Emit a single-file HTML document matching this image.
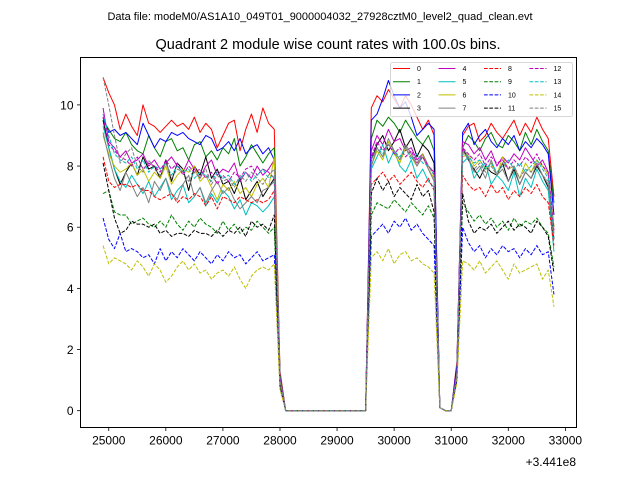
<!DOCTYPE html>
<html><head><meta charset="utf-8"><style>
body{margin:0;background:#fff;}
svg{display:block;font-family:"Liberation Sans","DejaVu Sans",sans-serif;}
</style></head><body>
<svg id="chart" width="640" height="480" viewBox="0 0 640 480" xmlns="http://www.w3.org/2000/svg">
<rect width="640" height="480" fill="#fff"/>
<text x="320" y="20" text-anchor="middle" font-size="11">Data file: modeM0/AS1A10_049T01_9000004032_27928cztM0_level2_quad_clean.evt</text>
<text x="328" y="49" text-anchor="middle" font-size="14.5">Quadrant 2 module wise count rates with 100.0s bins.</text>
<g id="grid"></g>
<g id="series"></g>
<rect x="80.5" y="57.5" width="496" height="370" fill="none" stroke="#000" stroke-width="1"/>
<g id="axes"></g>
<text x="576" y="466" text-anchor="end" font-size="12">+3.441e8</text>
<g id="legend"></g>
</svg>
<script>
const xTicks=[25000,26000,27000,28000,29000,30000,31000,32000,33000];
const yTicks=[0,2,4,6,8,10];
const colors=['#ff0000','#008000','#0000ff','#000000','#bf00bf','#00bfbf','#bfbf00','#808080'];
const s0=[10.9,10.4,10.0,9.2,9.7,9.3,9.0,10.0,9.4,9.3,9.1,9.3,9.5,9.3,9.4,9.2,9.6,9.1,9.4,9.2,8.6,9.0,9.4,9.5,8.5,9.2,9.7,9.1,9.9,9.4,9.2,1.3,0,0,0,0,0,0,0,0,0,0,0,0,0,0,0,9.9,10.3,10.1,10.5,10.2,9.9,10.3,10.0,9.6,9.2,9.5,9.0,0.1,0,0,1.6,9.0,9.3,9.4,8.8,9.0,9.4,9.1,8.9,9.2,9.5,9.0,9.4,9.1,9.6,9.2,8.9,7.0];
const s1=[9.5,9.2,8.9,8.8,9.1,8.7,8.5,8.4,9.0,8.6,8.3,8.8,8.9,8.5,8.6,8.2,8.7,8.8,8.3,8.5,8.2,8.6,8.4,8.9,8.0,8.3,8.7,8.4,8.1,8.4,8.6,1.2,0,0,0,0,0,0,0,0,0,0,0,0,0,0,0,8.9,9.5,9.3,9.6,9.4,9.1,9.5,9.2,8.9,8.7,9.0,8.5,0.1,0,0,1.4,8.6,9.0,8.8,8.5,8.9,9.1,8.7,8.6,9.0,8.8,8.5,9.1,8.7,9.2,8.8,8.5,6.8];
const s2=[9.6,9.1,9.2,9.0,9.1,8.9,8.7,9.4,9.0,8.6,8.9,8.8,9.1,9.0,9.1,8.9,8.8,8.7,9.0,8.9,8.5,8.6,8.8,8.5,8.9,8.4,8.6,8.7,8.4,8.6,8.2,1.1,0,0,0,0,0,0,0,0,0,0,0,0,0,0,0,9.5,9.7,10.2,10.8,10.3,9.9,10.1,9.6,9.0,9.2,9.4,9.2,0.1,0,0,1.5,9.1,9.4,8.7,9.0,9.2,8.8,8.6,8.9,8.7,9.0,8.5,8.8,8.6,8.9,8.7,8.4,6.4];
const s3=[9.5,8.6,7.9,7.4,7.8,8.1,7.7,8.3,7.9,8.0,7.6,8.2,7.5,8.1,7.9,7.2,8.0,7.7,8.3,7.6,7.9,7.4,7.5,7.1,7.6,6.9,7.2,7.5,7.0,7.3,7.6,1.0,0,0,0,0,0,0,0,0,0,0,0,0,0,0,0,8.2,8.7,9.0,8.5,8.8,9.2,8.6,8.9,8.3,8.7,8.5,8.1,0.1,0,0,1.3,8.6,8.2,7.9,7.6,8.0,7.8,7.7,8.1,7.5,7.9,7.4,7.8,7.6,8.0,7.7,7.3,5.6];
const s4=[9.9,8.8,8.6,8.3,8.5,8.1,8.2,8.4,8.0,8.2,7.9,8.1,8.3,8.0,7.8,8.2,7.9,7.6,8.0,8.2,7.7,7.9,7.8,8.1,7.5,7.8,7.6,8.0,7.7,7.9,8.2,1.1,0,0,0,0,0,0,0,0,0,0,0,0,0,0,0,8.5,9.0,8.7,9.2,8.8,8.9,8.5,8.6,8.2,8.4,8.0,7.8,0.1,0,0,1.3,8.8,8.7,8.4,8.6,8.2,8.5,8.0,8.3,8.1,8.4,8.2,8.6,8.3,8.0,8.2,7.8,6.0];
const s5=[9.3,8.6,7.9,7.5,7.3,7.7,7.4,7.1,7.5,7.0,7.3,7.6,6.9,7.2,7.4,6.8,7.0,7.3,6.7,7.1,6.8,7.2,7.0,6.6,6.9,6.4,6.8,6.7,6.5,6.7,7.0,0.9,0,0,0,0,0,0,0,0,0,0,0,0,0,0,0,7.9,8.3,8.7,8.1,8.5,8.0,7.8,8.2,7.6,7.9,7.5,7.3,0.1,0,0,1.2,8.1,8.3,7.6,7.9,8.1,7.4,7.7,7.5,7.2,7.8,7.0,7.6,7.3,7.9,7.5,7.2,5.2];
const s6=[9.0,8.4,8.0,7.8,7.9,8.1,7.7,7.9,7.5,7.8,7.6,8.0,7.4,7.7,7.9,7.8,8.0,7.5,7.7,7.3,6.9,7.4,7.2,7.5,7.1,7.3,7.0,7.4,7.6,7.3,8.3,1.0,0,0,0,0,0,0,0,0,0,0,0,0,0,0,0,8.0,8.5,8.2,8.8,8.4,8.1,8.6,8.3,8.0,8.4,7.9,7.6,0.1,0,0,1.2,8.3,8.4,8.0,8.2,7.9,8.1,7.7,8.3,7.9,8.0,7.6,8.1,7.8,8.2,8.0,7.7,6.0];
const s7=[9.1,8.3,7.6,7.2,7.8,7.4,7.0,7.3,6.8,7.5,7.2,7.6,7.1,6.9,7.4,7.7,7.0,7.3,6.8,7.2,7.5,7.1,7.3,6.9,6.6,6.8,7.0,6.8,7.2,7.3,7.5,1.0,0,0,0,0,0,0,0,0,0,0,0,0,0,0,0,8.0,8.6,8.3,8.9,8.5,8.2,8.7,8.4,8.0,8.3,7.9,7.5,0.1,0,0,1.2,8.6,8.3,7.8,8.0,7.6,8.2,7.7,7.9,7.5,8.0,7.4,7.8,7.6,8.1,7.7,7.4,5.8];
const s8=[8.3,7.5,7.3,7.4,7.4,7.3,7.4,7.2,7.2,7.0,6.9,7.0,7.1,6.8,7.0,6.9,7.1,7.0,6.7,7.0,6.6,7.0,6.9,6.8,7.0,6.9,6.8,6.9,6.8,6.9,7.2,0.9,0,0,0,0,0,0,0,0,0,0,0,0,0,0,0,7.4,7.6,7.8,7.5,7.7,7.4,7.6,7.8,7.5,7.3,7.6,7.2,0.1,0,0,1.1,7.7,7.4,7.2,7.3,7.0,7.4,7.1,7.3,6.9,7.2,7.0,7.3,7.1,7.4,7.0,6.8,5.4];
const s9=[7.1,7.2,6.5,6.4,6.4,6.1,6.2,6.3,6.1,6.0,6.2,6.0,6.4,6.1,5.9,6.2,6.0,6.3,6.1,6.0,5.8,6.2,5.9,6.1,5.8,6.0,5.9,6.2,6.0,5.8,6.0,0.8,0,0,0,0,0,0,0,0,0,0,0,0,0,0,0,6.4,6.8,6.7,6.6,6.9,6.7,6.5,6.8,6.6,6.4,6.7,6.3,0.1,0,0,1.0,6.8,6.5,6.2,6.4,6.1,6.3,6.0,6.2,5.9,6.3,6.0,6.2,6.1,6.3,6.0,5.8,4.7];
const s10=[6.3,5.6,5.3,5.8,5.2,5.3,5.2,5.0,5.1,4.8,5.3,4.9,5.2,5.0,5.3,5.1,4.9,5.2,5.0,4.8,5.1,4.9,5.2,5.0,5.1,4.8,5.0,5.2,4.9,5.0,5.1,0.8,0,0,0,0,0,0,0,0,0,0,0,0,0,0,0,5.7,5.9,6.1,5.8,6.2,6.0,6.3,5.9,6.1,5.8,5.6,5.4,0.1,0,0,1.0,6.0,5.5,5.2,5.4,5.0,5.3,5.1,5.4,5.2,5.3,5.0,5.3,5.1,5.4,5.1,5.2,3.8];
const s11=[8.1,7.2,6.3,5.8,5.9,6.2,6.1,6.1,6.0,6.1,5.8,5.9,5.7,5.8,5.8,5.7,5.9,5.8,5.8,5.7,5.9,5.7,5.9,5.8,6.0,5.7,6.2,6.0,6.1,5.9,6.4,0.8,0,0,0,0,0,0,0,0,0,0,0,0,0,0,0,7.1,7.6,7.2,7.5,7.0,7.3,7.1,6.9,7.4,7.0,7.2,6.5,0.1,0,0,1.1,7.1,6.2,5.8,6.0,5.9,6.1,5.8,6.0,6.2,5.9,6.1,6.0,5.8,6.2,6.0,5.7,4.5];
const s12=[9.6,8.7,8.5,8.3,8.2,8.0,8.3,7.9,8.1,8.0,7.8,8.2,7.9,8.1,7.7,8.0,7.8,7.9,7.6,7.8,7.4,7.7,7.5,7.8,7.6,7.9,8.0,7.7,7.9,7.8,7.6,1.0,0,0,0,0,0,0,0,0,0,0,0,0,0,0,0,8.3,8.8,8.5,8.7,8.4,8.6,8.3,8.5,8.1,8.3,8.0,7.8,0.1,0,0,1.2,8.6,8.4,8.2,8.4,8.0,8.3,8.1,8.2,7.9,8.2,8.0,8.3,8.1,8.4,8.0,7.8,5.9];
const s13=[9.7,9.0,8.4,8.2,8.1,8.3,7.9,8.2,7.8,8.0,7.9,8.1,7.7,8.0,7.8,7.9,7.6,7.8,7.7,7.5,7.8,7.6,7.7,7.4,7.6,7.8,7.5,7.7,7.9,7.6,7.7,1.0,0,0,0,0,0,0,0,0,0,0,0,0,0,0,0,8.2,8.6,8.4,8.7,8.5,8.3,8.6,8.2,8.4,8.1,8.0,7.7,0.1,0,0,1.2,8.4,8.3,8.1,8.2,7.9,8.1,7.8,8.0,8.2,7.9,8.1,7.8,8.0,8.2,7.9,7.6,5.7];
const s14=[5.4,4.8,5.0,4.9,4.8,4.6,4.9,4.7,4.4,4.8,4.6,4.2,4.4,4.7,4.9,4.6,4.8,4.5,4.6,4.3,4.5,4.6,4.4,4.7,4.3,4.0,4.4,4.6,4.7,4.6,4.8,0.7,0,0,0,0,0,0,0,0,0,0,0,0,0,0,0,5.0,5.2,4.9,5.3,4.8,5.1,5.2,4.9,5.0,4.8,4.7,4.5,0.1,0,0,0.9,4.9,4.8,4.6,4.9,4.5,4.7,4.9,4.6,4.3,4.8,4.5,4.6,4.7,4.8,4.3,4.6,3.4];
const s15=[10.9,10.0,9.0,8.1,8.4,8.6,8.0,7.8,8.2,7.9,7.7,8.1,7.6,7.9,7.8,7.5,7.8,7.6,7.9,7.4,7.7,7.5,7.6,7.3,7.7,7.5,7.8,7.6,7.4,7.7,7.9,1.0,0,0,0,0,0,0,0,0,0,0,0,0,0,0,0,8.2,8.6,8.3,8.7,8.5,8.2,8.6,8.3,8.1,8.4,8.0,7.7,0.1,0,0,1.2,8.5,8.2,7.9,8.1,7.8,8.0,7.7,8.1,7.9,8.0,7.6,7.9,7.8,8.1,7.7,7.5,5.6];
const seriesList=[s0,s1,s2,s3,s4,s5,s6,s7,s8,s9,s10,s11,s12,s13,s14,s15];
const seriesLabels=['0','1','2','3','4','5','6','7','8','9','10','11','12','13','14','15'];
const tStart=24900, tStep=100;

const NS='http://www.w3.org/2000/svg';
const X0=80.5,X1=576.5,Y0=57.5,Y1=427.5;
const xMin=24505,xMax=33195,yMin=-0.55,yMax=11.55;
function xs(v){return X0+(v-xMin)/(xMax-xMin)*(X1-X0);}
function ys(v){return Y1-(v-yMin)/(yMax-yMin)*(Y1-Y0);}
function mk(tag,attrs,parent){const e=document.createElementNS(NS,tag);for(const k in attrs)e.setAttribute(k,attrs[k]);parent.appendChild(e);return e;}

const axes=document.getElementById('axes');
xTicks.forEach(t=>{
  const g=mk('g',{},axes);
  
  
  mk('line',{x1:xs(t),x2:xs(t),y1:Y1,y2:Y1+3.5,stroke:'#000','stroke-width':0.8},g);
  const tx=mk('text',{x:xs(t),y:Y1+17,'text-anchor':'middle','font-size':12},g);
  tx.textContent=t;
});
yTicks.forEach(t=>{
  const g=mk('g',{},axes);
  
  
  mk('line',{x1:X0-3.5,x2:X0,y1:ys(t),y2:ys(t),stroke:'#000','stroke-width':0.8},g);
  const tx=mk('text',{x:X0-7,y:ys(t)+4.5,'text-anchor':'end','font-size':12},g);
  tx.textContent=t;
});

const sg=document.getElementById('series');
seriesList.forEach((vals,i)=>{
  const pts=vals.map((v,j)=>xs(tStart+j*tStep).toFixed(2)+','+ys(v).toFixed(2)).join(' ');
  const pl=mk('polyline',{points:pts,fill:'none',stroke:colors[i%8],'stroke-width':1,'stroke-linejoin':'round'},sg);
  if(i>=8)pl.setAttribute('stroke-dasharray','3.7,1.6');
  
  
});

const lg=document.getElementById('legend');
mk('rect',{x:390.5,y:62.5,width:182,height:54,rx:2,fill:'#fff','fill-opacity':0.8,stroke:'#ccc','stroke-width':0.8},lg);
seriesLabels.forEach((lab,i)=>{
  const col=Math.floor(i/4),row=i%4;
  const x=393+col*45.5,y=68.5+row*13.2;
  const g=mk('g',{},lg);
  
  
  const ln=mk('line',{x1:x,x2:x+17,y1:y,y2:y,stroke:colors[i%8],'stroke-width':1},g);
  if(i>=8)ln.setAttribute('stroke-dasharray','3.7,1.6');
  const tx=mk('text',{x:x+24,y:y+2.5,'font-size':7},g);
  tx.textContent=lab;
});
</script>
</body></html>
